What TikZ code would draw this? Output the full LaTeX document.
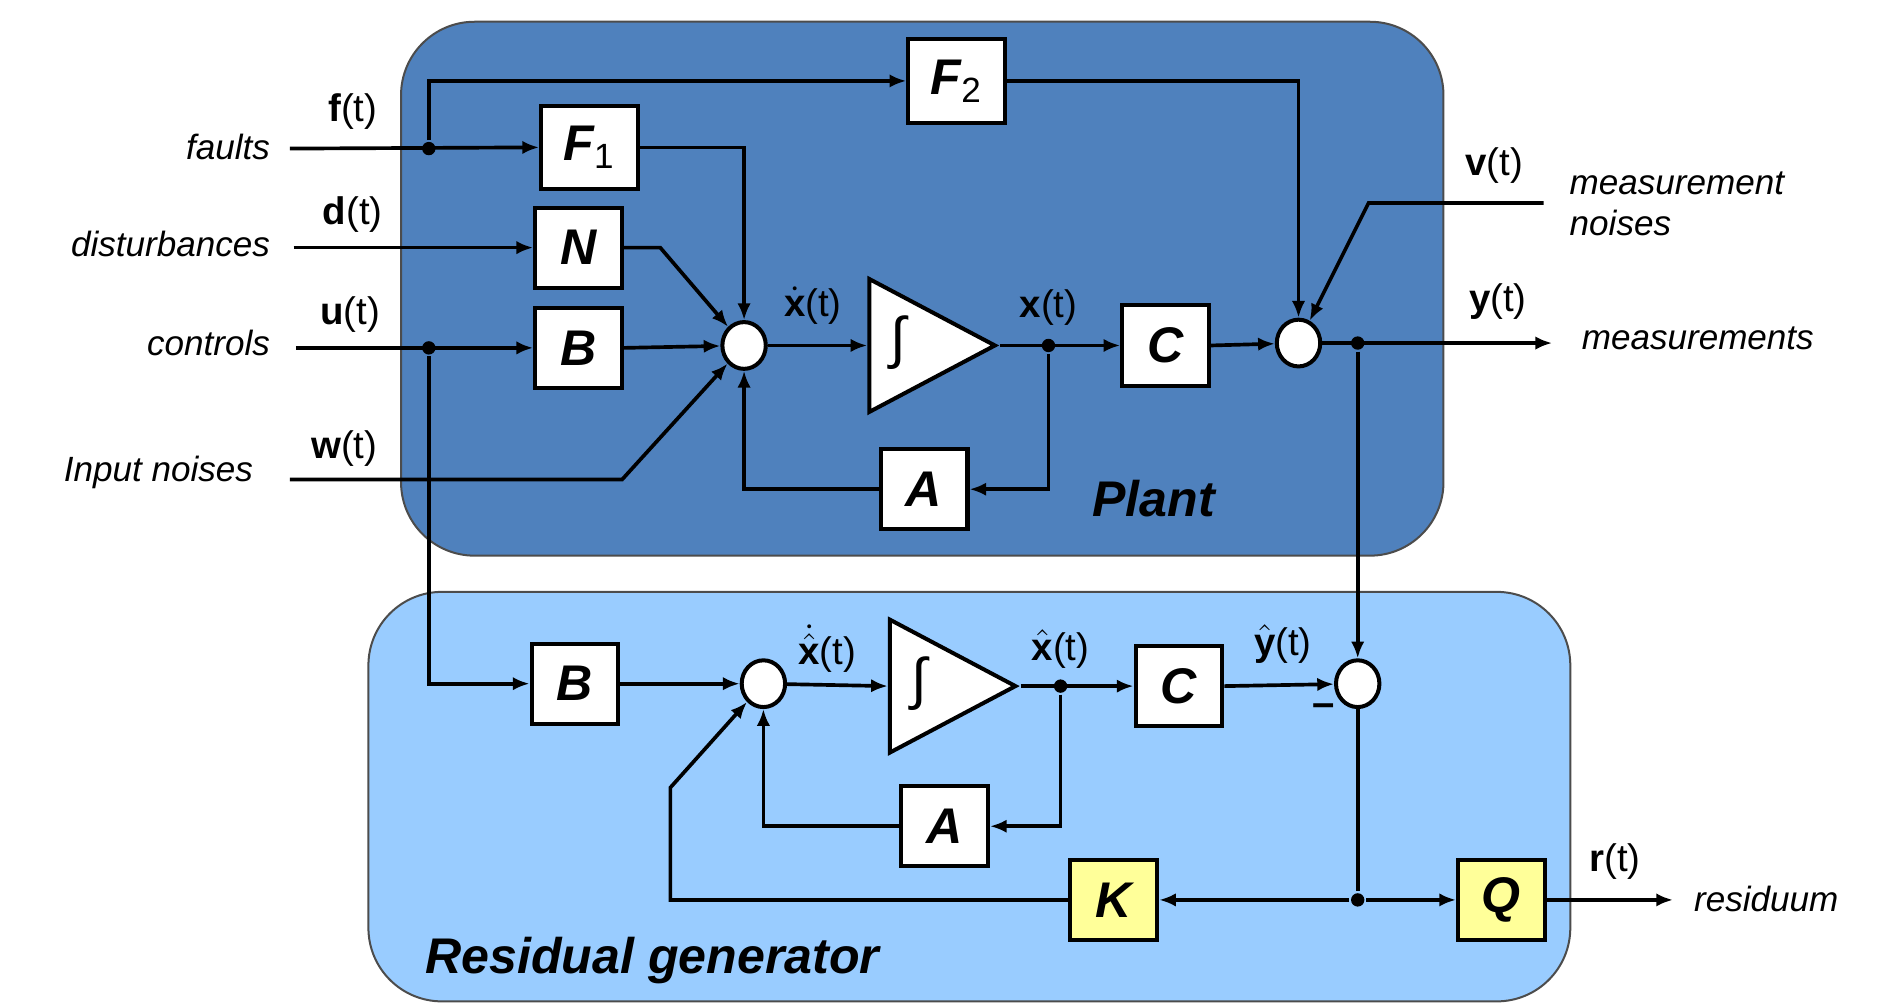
\documentclass[tikz,border=0pt]{standalone}
\usepackage{amsmath}
\usepackage{fontspec}
\setmainfont{Liberation Sans}
\usepackage{tikz}
\usetikzlibrary{arrows.meta,calc,positioning,shapes.geometric}
\definecolor{bluImpianto}{RGB}{79,129,189}
\definecolor{bluResiduo}{RGB}{153,204,255}
\definecolor{gialloBlocco}{RGB}{255,255,153}
\newcommand{\vett}[1]{\text{\bfseries #1}}
\tikzset{
  blocco/.style={draw, fill=white, line width=1.2pt, minimum width=26pt, minimum height=24pt,
    inner sep=0pt, font=\fontsize{15}{15}\selectfont\bfseries\itshape},
  fblocco/.style={minimum width=29pt, minimum height=25pt},
  giallo/.style={fill=gialloBlocco},
  somma/.style={draw, fill=white, ellipse, line width=1.2pt, minimum width=13pt, minimum height=14pt, inner sep=0pt},
  integ/.style={draw, fill=white, isosceles triangle, isosceles triangle stretches,
    minimum width=39.8pt, minimum height=37.6pt, inner sep=0pt, line width=1.2pt},
  punto/.style={circle, fill, inner sep=0pt, minimum size=4pt},
  sig/.style={font=\fontsize{11.5}{12}\selectfont},
  testo/.style={inner sep=0pt, font=\fontsize{10.5}{12.3}\selectfont\itshape},
  titolo/.style={font=\fontsize{15}{15}\selectfont\bfseries\itshape},
  sfondo/.style={draw=black!70, line width=0.6pt, rounded corners=22pt}
}
\begin{document}
\begin{tikzpicture}[x=0.3616pt,y=-0.3616pt,line width=1.1pt,>={Latex[length=5pt,width=4pt]}]
\useasboundingbox (0,0) rectangle (1568,830);
% riquadri di sfondo
\draw[sfondo,fill=bluImpianto] (332,18) rectangle (1195,460);
\draw[sfondo,fill=bluResiduo] (305,490) rectangle (1300,829);

% impianto
\node[blocco,fblocco] (F2) at (792,67) {F\textsubscript{\normalfont 2}};
\node[blocco,fblocco] (F1) at (488,122) {F\textsubscript{\normalfont 1}};
\node[blocco] (N) at (479,205) {N};
\node[blocco] (B) at (479,288) {B};
\node[somma] (sp) at (616,286) {};
\node[integ,anchor=lower side] (int) at (718,286) {};
\node[font=\fontsize{17}{17}\selectfont] (intS) at (744,284) {∫};
\node[blocco] (C) at (965,286) {C};
\node[somma] (sy) at (1075,284) {};
\node[blocco] (A) at (765,405) {A};
\coordinate (fIn) at (240,123);
\coordinate (dIn) at (243,205);
\coordinate (uIn) at (245,288);
\coordinate (wIn) at (240,397);
\coordinate (wG) at (515,397);
\coordinate (vIn) at (1278,168);
\coordinate (vG) at (1133,168);
\coordinate (yOut) at (1285,284);

% generatore di residui
\node[blocco] (Br) at (476,566) {B};
\node[somma] (sr1) at (632,566) {};
\node[integ,anchor=lower side] (intr) at (735,568) {};
\node[font=\fontsize{17}{17}\selectfont] (intrS) at (761,566) {∫};
\node[blocco] (Cr) at (976,568) {C};
\node[somma] (sr) at (1124,566) {};
\node[blocco] (Ar) at (782,684) {A};
\node[blocco,giallo] (K) at (922,745) {K};
\node[blocco,giallo] (Q) at (1243,745) {Q};
\coordinate (kG) at (555,652);
\coordinate (rOut) at (1385,745);

% collegamenti impianto
\draw[->] (fIn) -- (F1.west);
\draw[->] (uIn) -- (B.west);
\draw[->] (int.apex) -- (C.west);
\draw[->] (sy) -- (yOut);
\node[punto] (jf) at (355,123) {};
\node[punto] (ju) at (355,288) {};
\node[punto] (jx) at (868,286) {};
\node[punto] (jy) at (1124,284) {};
\draw[->] (jf) |- (F2.west);
\draw[->] (F1.east) -| (sp);
\draw[->] (F2.east) -| (sy);
\draw[->] (dIn) -- (N.west);
\draw[->] (N.east) -- ++(30,0) -- (sp);
\draw[->] (B.east) -- (sp);
\draw[->] (wIn) -- (wG) -- (sp);
\draw[->] (sp) -- (int.lower side);
\draw[->] (jx) |- (A.east);
\draw[->] (A.west) -| (sp);
\draw[->] (C.east) -- (sy);
\draw[->] (vIn) -- (vG) -- (sy);
\draw[->] (jy) -- (sr);
\draw[->] (ju) |- (Br.west);

% collegamenti residuo
\draw[->] (intr.apex) -- (Cr.west);
\draw[->] (Br.east) -- (sr1);
\draw[->] (sr1) -- (intr.lower side);
\node[punto] (jxr) at (878,568) {};
\node[punto] (jr) at (1124,745) {};
\draw[->] (jxr) |- (Ar.east);
\draw[->] (Ar.west) -| (sr1);
\draw[->] (Cr.east) -- (sr);
\draw (sr) -- (jr);
\draw[->] (jr) -- (K.east);
\draw[->] (jr) -- (Q.west);
\draw[->] (K.west) -| (kG) -- (sr1);
\draw[->] (Q.east) -- (rOut);

% etichette segnali
\node[sig] (lf) at (292,92) {\textbf{f}(t)};
\node[sig] (ld) at (292,178) {\textbf{d}(t)};
\node[sig] (lu) at (290,260) {\textbf{u}(t)};
\node[sig] (lw) at (285,371) {\textbf{w}(t)};
\node[sig] (lxd) at (673,253) {$\dot{\vett{x}}$(t)};
\node[sig] (lx) at (868,255) {\textbf{x}(t)};
\node[sig] (lv) at (1237,137) {\textbf{v}(t)};
\node[sig] (ly) at (1240,250) {\textbf{y}(t)};
\node[sig] (lxhd) at (685,537) {$\dot{\hat{\vett{x}}}$(t)};
\node[sig] (lxh) at (878,537) {$\hat{\vett{x}}$(t)};
\node[sig] (lyh) at (1062,533) {$\hat{\vett{y}}$(t)};
\node[sig] (lr) at (1337,713) {\textbf{r}(t)};
\node[font=\bfseries\fontsize{12}{12}\selectfont] (meno) at (1096,588) {--};

% testi
\node[testo,anchor=east] (tf) at (225,122) {faults};
\node[testo,anchor=east] (td) at (225,202) {disturbances};
\node[testo,anchor=east] (tu) at (225,284) {controls};
\node[testo,anchor=east] (tw) at (211,391) {Input noises};
\node[testo,anchor=west,align=left] (tv) at (1298,169) {measurement\\noises};
\node[testo,anchor=west] (ty) at (1308,280) {measurements};
\node[testo,anchor=west] (tr) at (1401,744) {residuum};
\node[titolo] (tPlant) at (955,413) {Plant};
\node[titolo] (tRes) at (540,795) {Residual generator};
\end{tikzpicture}
\end{document}
